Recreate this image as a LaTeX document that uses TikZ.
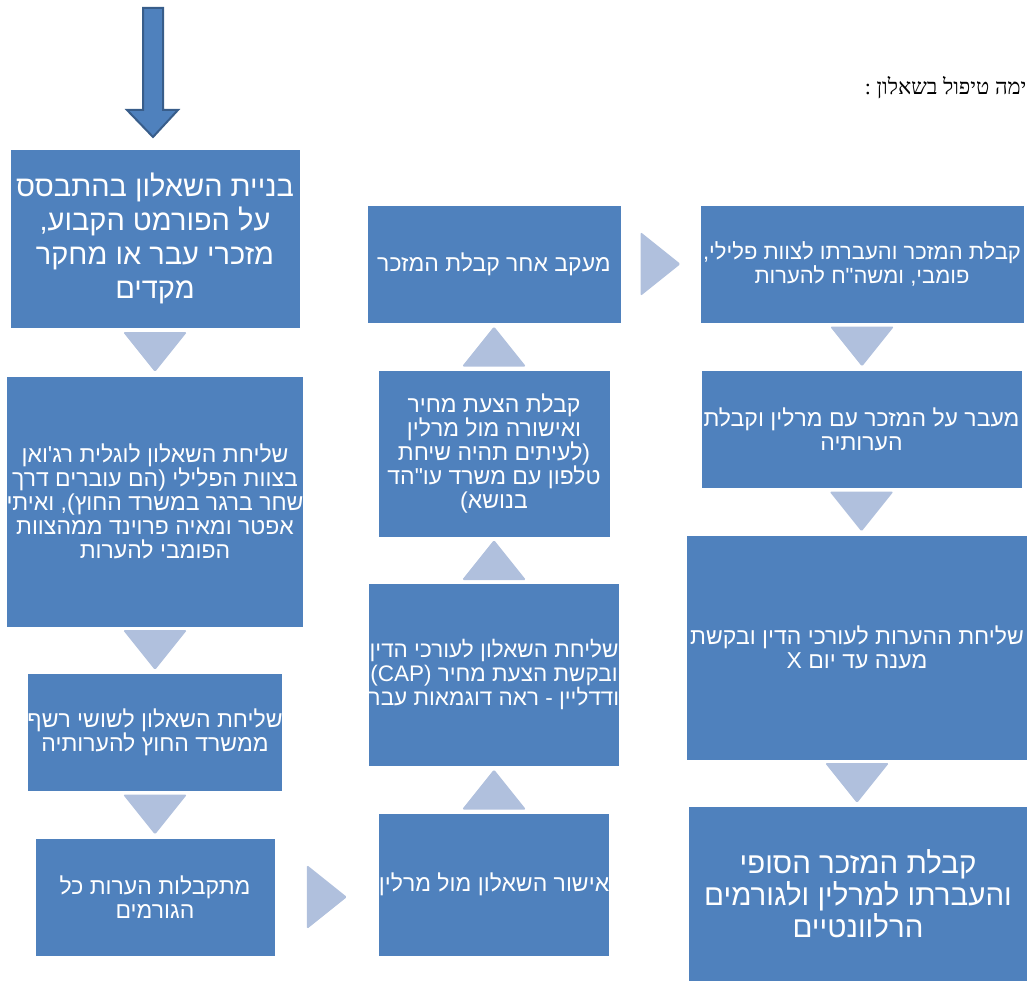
\documentclass[tikz,border=0pt]{standalone}
\usepackage{fontspec}
\usetikzlibrary{calc}
\TeXXeTstate=1
\newfontfamily\hebfont[Script=Hebrew]{Liberation Sans}
\newfontfamily\hebserif[Script=Hebrew]{Liberation Serif}
\definecolor{boxblue}{HTML}{4F81BD}
\definecolor{boxedge}{HTML}{385D8A}
\definecolor{chevfill}{HTML}{B0C0DD}
\newcommand{\heb}[1]{\beginR #1\endR}
% משולש בין שתי תיבות
\newcommand{\chev}[2]{%
  \path (#1) coordinate (ca) (#2) coordinate (cb);
  \path ($(ca)!0.5!(cb)$) coordinate (cm);
  \path ($(cm)!20pt!(ca)$) coordinate (cbase);
  \fill [chevron] ($(cbase)!32pt!90:(cm)$) -- ($(cm)!20pt!(cb)$) -- ($(cbase)!32pt!-90:(cm)$) -- cycle;
}
\tikzset{
  box/.style={draw=white, line width=0.75pt, fill=boxblue, text=white, inner sep=0pt, align=center, font=\hebfont\fontsize{23}{24}\selectfont},
  bigbox/.style={box, font=\hebfont\fontsize{29}{34}\selectfont},
  chevron/.style={fill=chevfill, rounded corners=1.5pt}
}
\begin{document}
\begin{tikzpicture}[x=1pt, y=-1pt]
        \useasboundingbox ( 0, 0 ) rectangle ( 1027, 981 );

        % כותרת
        \node [anchor=east, font=\hebserif\fontsize{22}{26}\selectfont] (title) at ( 1030, 88 ) {\heb{ימה טיפול בשאלון :}};

        % חץ עליון
        \draw [fill=boxblue, draw=boxedge, line width=2pt] ( 143, 8 ) -- ( 163, 8 ) -- ( 163, 110 ) -- ( 178, 110 ) -- ( 153, 137 ) -- ( 127, 110 ) -- ( 143, 110 ) -- cycle;

        % עמודה שמאלית
        \node [bigbox, minimum width=290pt, minimum height=179pt] (b1) at ( 155, 238.5 ) {\heb{בניית השאלון בהתבסס}\\\heb{על הפורמט הקבוע,}\\\heb{מזכרי עבר או מחקר}\\\heb{מקדים}};
        \node [box, minimum width=296pt, minimum height=251pt] (b2) at ( 155, 501.5 ) {\heb{שליחת השאלון לוגלית רג'ואן}\\\heb{בצוות הפלילי (הם עוברים דרך}\\\heb{שחר ברגר במשרד החוץ), ואיתי}\\\heb{אפטר ומאיה פרוינד ממהצוות}\\\heb{הפומבי להערות}};
        \node [box, minimum width=254pt, minimum height=118pt] (b3) at ( 155, 732 ) {\heb{שליחת השאלון לשושי רשף}\\\heb{ממשרד החוץ להערותיה}};
        \node [box, minimum width=240pt, minimum height=118pt] (b4) at ( 155, 897 ) {\heb{מתקבלות הערות כל}\\\heb{הגורמים}};

        % עמודה אמצעית
        \node [box, minimum width=230pt, minimum height=143pt] (b5) at ( 494, 884.5 ) {\heb{אישור השאלון מול מרלין}};
        \node [box, minimum width=250pt, minimum height=183pt, font=\hebfont\fontsize{22.5}{24}\selectfont] (b6) at ( 494, 674.5 ) {\heb{שליחת השאלון לעורכי הדין}\\\heb{ובקשת הצעת מחיר (CAP)}\\\heb{ודדליין - ראה דוגמאות עבר}};
        \node [box, minimum width=232pt, minimum height=167pt] (b7) at ( 494, 453.5 ) {\heb{קבלת הצעת מחיר}\\\heb{ואישורה מול מרלין}\\\heb{(לעיתים תהיה שיחת}\\\heb{טלפון עם משרד עו"הד}\\\heb{בנושא)}};
        \node [box, minimum width=254pt, minimum height=118pt] (b8) at ( 494, 264 ) {\heb{מעקב אחר קבלת המזכר}};

        % עמודה ימנית
        \node [box, minimum width=324pt, minimum height=118pt, font=\hebfont\fontsize{22}{24}\selectfont] (b9) at ( 862, 264 ) {\makebox[300pt]{\heb{קבלת המזכר והעברתו לצוות פלילי,}}\\\heb{פומבי, ומשה"ח להערות}};
        \node [box, minimum width=321pt, minimum height=118pt] (b10) at ( 861.5, 429 ) {\heb{מעבר על המזכר עם מרלין וקבלת}\\\heb{הערותיה}};
        \node [box, minimum width=342pt, minimum height=225pt] (b11) at ( 857, 647.5 ) {\heb{שליחת ההערות לעורכי הדין ובקשת}\\\heb{מענה עד יום X}};
        \node [bigbox, minimum width=340pt, minimum height=176pt, font=\hebfont\fontsize{29.5}{32}\selectfont] (b12) at ( 858, 894 ) {\heb{קבלת המזכר הסופי}\\\heb{והעברתו למרלין ולגורמים}\\\heb{הרלוונטיים}};

        % משולשים
        \chev{b1.south}{b1.south |- b2.north}
        \chev{b2.south}{b2.south |- b3.north}
        \chev{b3.south}{b3.south |- b4.north}
        \chev{b4.east}{b4.east -| b5.west}
        \chev{b5.north}{b5.north |- b6.south}
        \chev{b6.north}{b6.north |- b7.south}
        \chev{b7.north}{b7.north |- b8.south}
        \chev{b8.east}{b8.east -| b9.west}
        \chev{b9.south}{b9.south |- b10.north}
        \chev{b10.south}{b10.south |- b11.north}
        \chev{b11.south}{b11.south |- b12.north}
    \end{tikzpicture}
\end{document}
